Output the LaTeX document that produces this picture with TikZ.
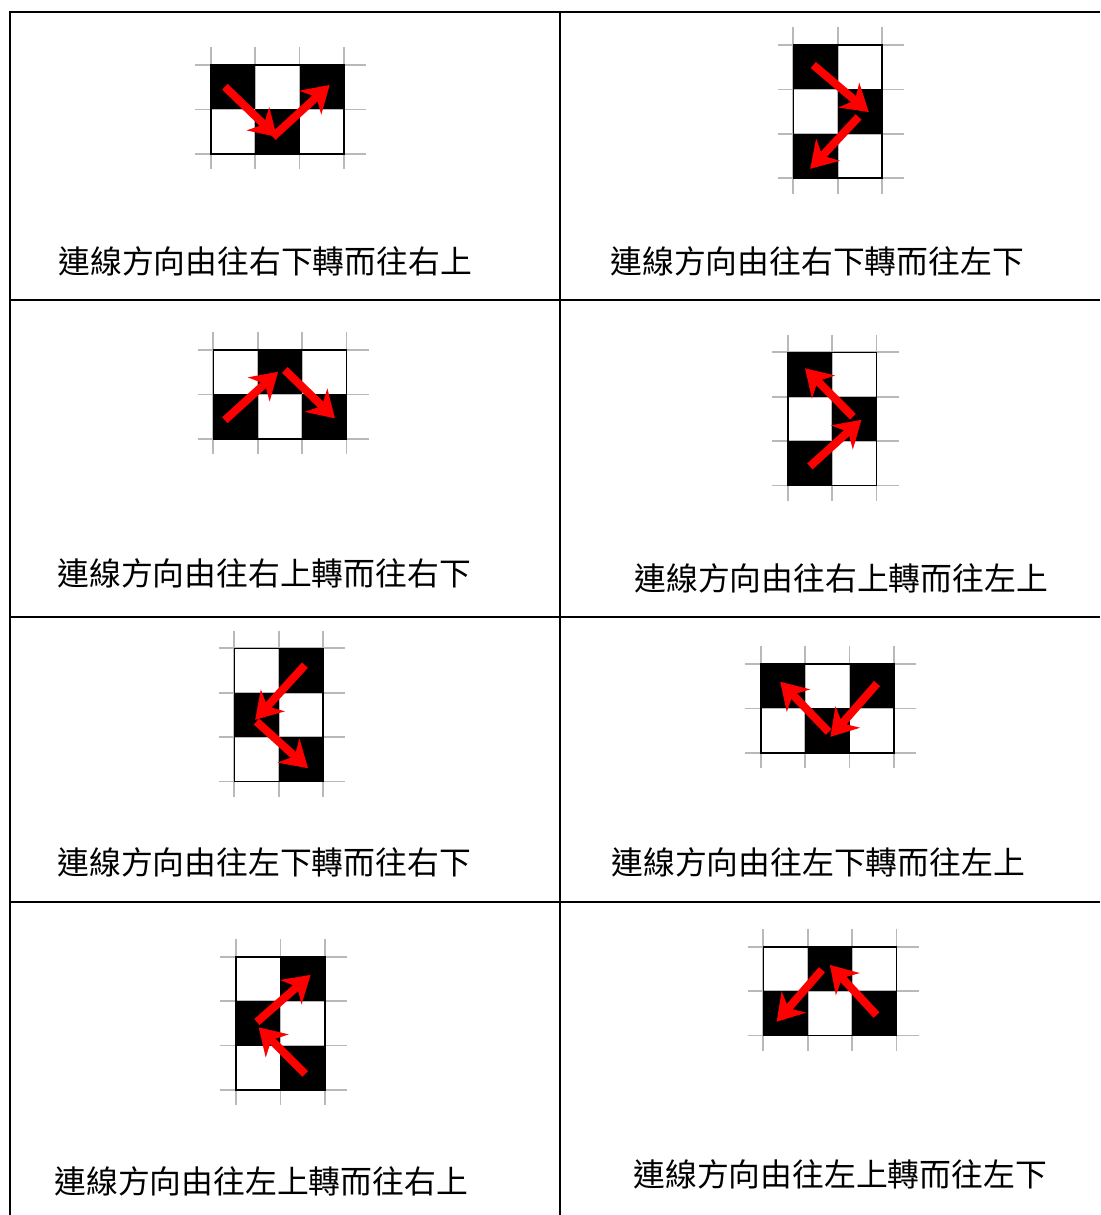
\documentclass[tikz,border=0pt]{standalone}
\usepackage{fontspec}
\newfontfamily\cjk{Noto Sans CJK TC}
\usetikzlibrary{arrows.meta}

\definecolor{gridgray}{RGB}{185,185,185}
\definecolor{arrowred}{RGB}{255,0,0}

\tikzset{
  cellunit/.style={x=22.2pt,y=-22.2pt},
  gridline/.style={draw=gridgray,line width=0.9pt},
  boxline/.style={draw=black,line width=0.8pt},
  tableline/.style={draw=black,line width=1pt},
  redarrow/.style={draw=arrowred,line width=4pt,
    -{Stealth[length=13pt,width=16pt,inset=4pt]}},
  caption/.style={anchor=west,inner sep=0pt,font=\cjk\fontsize{15.9pt}{19pt}\selectfont}
}

% #1 columns, #2 rows, #3 black cells (col/row, counted from the top)
\newcommand{\board}[3]{%
  \foreach \i in {0,...,#1} \draw[gridline] (\i,-0.4) -- (\i,#2+0.35);
  \foreach \j in {0,...,#2} \draw[gridline] (-0.35,\j) -- (#1+0.5,\j);
  \foreach \c/\r in {#3} \fill (\c,\r) rectangle ++(1,1);
  \draw[boxline] (0,0) rectangle (#1,#2);
}

\begin{document}
\begin{tikzpicture}[x=0.5pt,y=-0.5pt]
\fill[white] (0,0) rectangle (1100,1215);
\useasboundingbox (0,0) rectangle (1100,1215);

% table
\draw[tableline] (10,1215) -- (10,12) -- (1100,12);
\draw[tableline] (560,12) -- (560,1215);
\foreach \y in {300,617,902}
  \draw[tableline] (10,\y) -- (1100,\y);

% row 1
\begin{scope}[shift={(210.7,65)},cellunit]
\board{3}{2}{0/0,2/0,1/1}
\coordinate (c1a) at (0.32,0.49);
\coordinate (c1b) at (1.49,1.62);
\coordinate (c1c) at (1.40,1.62);
\coordinate (c1d) at (2.68,0.45);
\draw[redarrow] (c1a) -- (c1b);
\draw[redarrow] (c1c) -- (c1d);
\end{scope}
\node[caption] (t1) at (58,261) {連線方向由往右下轉而往右上};

\begin{scope}[shift={(793.3,45)},cellunit]
\board{2}{3}{0/0,1/1,0/2}
\coordinate (c2a) at (0.45,0.45);
\coordinate (c2b) at (1.70,1.51);
\coordinate (c2c) at (1.47,1.62);
\coordinate (c2d) at (0.38,2.79);
\draw[redarrow] (c2a) -- (c2b);
\draw[redarrow] (c2c) -- (c2d);
\end{scope}
\node[caption] (t2) at (610,261) {連線方向由往右下轉而往左下};

% row 2
\begin{scope}[shift={(213.3,350)},cellunit]
\board{3}{2}{1/0,0/1,2/1}
\coordinate (c3a) at (0.26,1.58);
\coordinate (c3b) at (1.46,0.49);
\coordinate (c3c) at (1.61,0.45);
\coordinate (c3d) at (2.74,1.54);
\draw[redarrow] (c3a) -- (c3b);
\draw[redarrow] (c3c) -- (c3d);
\end{scope}
\node[caption] (t3) at (57,573) {連線方向由往右上轉而往右下};

\begin{scope}[shift={(787.7,352.3)},cellunit]
\board{2}{3}{0/0,1/1,0/2}
\coordinate (c4a) at (0.50,2.57);
\coordinate (c4b) at (1.66,1.52);
\coordinate (c4c) at (1.47,1.45);
\coordinate (c4d) at (0.39,0.36);
\draw[redarrow] (c4a) -- (c4b);
\draw[redarrow] (c4c) -- (c4d);
\end{scope}
\node[caption] (t4) at (634,578) {連線方向由往右上轉而往左上};

% row 3
\begin{scope}[shift={(234.3,648.3)},cellunit]
\board{2}{3}{1/0,0/1,1/2}
\coordinate (c5a) at (1.59,0.38);
\coordinate (c5b) at (0.47,1.61);
\coordinate (c5c) at (0.50,1.65);
\coordinate (c5d) at (1.66,2.70);
\draw[redarrow] (c5a) -- (c5b);
\draw[redarrow] (c5c) -- (c5d);
\end{scope}
\node[caption] (t5) at (57,862) {連線方向由往左下轉而往右下};

\begin{scope}[shift={(760.7,664)},cellunit]
\board{3}{2}{0/0,2/0,1/1}
\coordinate (c6a) at (2.62,0.44);
\coordinate (c6b) at (1.57,1.64);
\coordinate (c6c) at (1.53,1.53);
\coordinate (c6d) at (0.44,0.40);
\draw[redarrow] (c6a) -- (c6b);
\draw[redarrow] (c6c) -- (c6d);
\end{scope}
\node[caption] (t6) at (611,862) {連線方向由往左下轉而往左上};

% row 4
\begin{scope}[shift={(236,956.7)},cellunit]
\board{2}{3}{1/0,0/1,1/2}
\coordinate (c7a) at (1.56,2.64);
\coordinate (c7b) at (0.51,1.59);
\coordinate (c7c) at (0.47,1.47);
\coordinate (c7d) at (1.68,0.41);
\draw[redarrow] (c7a) -- (c7b);
\draw[redarrow] (c7c) -- (c7d);
\end{scope}
\node[caption] (t7) at (54,1181) {連線方向由往左上轉而往右上};

\begin{scope}[shift={(763.3,946.7)},cellunit]
\board{3}{2}{1/0,0/1,2/1}
\coordinate (c8a) at (2.55,1.54);
\coordinate (c8b) at (1.50,0.41);
\coordinate (c8c) at (1.32,0.52);
\coordinate (c8d) at (0.30,1.69);
\draw[redarrow] (c8a) -- (c8b);
\draw[redarrow] (c8c) -- (c8d);
\end{scope}
\node[caption] (t8) at (633,1174) {連線方向由往左上轉而往左下};

\end{tikzpicture}
\end{document}
